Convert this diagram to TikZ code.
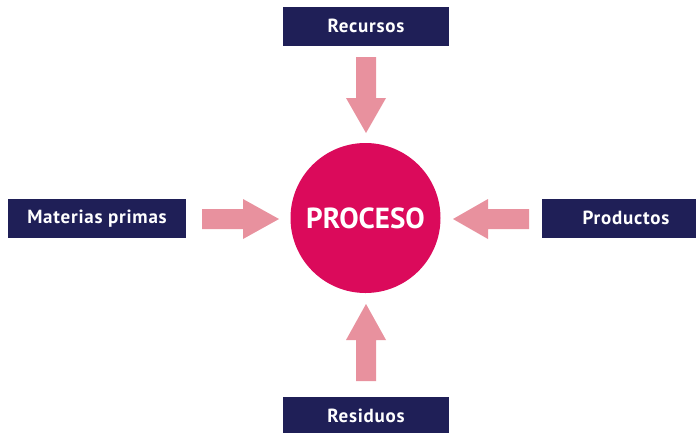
\documentclass[tikz,border=0pt]{standalone}
\usepackage{fontspec}
\setmainfont{PT Sans}
\begin{document}
\begin{tikzpicture}[x=1pt,y=-1pt,
  lbl/.style={fill=navy,text=white,font=\bfseries\fontsize{19}{22}\selectfont\addfontfeatures{LetterSpace=4},minimum height=39pt,inner sep=0pt,anchor=center},
  blk/.style={fill=pinkarrow,draw=none}]
\definecolor{navy}{HTML}{1F1F57}
\definecolor{pinkarrow}{HTML}{E8919E}
\definecolor{magent}{HTML}{DB0A5B}
\useasboundingbox (0,0) rectangle (696,432);
\fill[white] (0,0) rectangle (696,432);
\node[circle,fill=magent,minimum size=150pt,inner sep=0pt,text=white,font=\bfseries\fontsize{29}{33}\selectfont] (proc) at (365.5,218) {PROCESO};
\node[lbl,minimum width=166pt] (rec) at (366,26.5) {\raisebox{1pt}{Recursos}};
\node[lbl,minimum width=178pt] (mat) at (97,218.5) {\raisebox{1pt}{Materias primas}};
\node[lbl,minimum width=168pt] (prod) at (626,218.5) {\raisebox{1pt}{Productos}};
\node[lbl,minimum width=166pt] (res) at (366,416.5) {\raisebox{2pt}{Residuos}};
% down arrow
\fill[blk] (356,57) -- (376,57) -- (376,98) -- (386,98) -- (366,133) -- (346,98) -- (356,98) -- cycle;
% up arrow
\fill[blk] (356,381) -- (376,381) -- (376,340) -- (386,340) -- (366,304) -- (346,340) -- (356,340) -- cycle;
% right arrow
\fill[blk] (202,209) -- (243,209) -- (243,199) -- (279,219) -- (243,239) -- (243,229) -- (202,229) -- cycle;
% left arrow
\fill[blk] (529,209) -- (488,209) -- (488,199) -- (453,219) -- (488,239) -- (488,229) -- (529,229) -- cycle;
\end{tikzpicture}
\end{document}
